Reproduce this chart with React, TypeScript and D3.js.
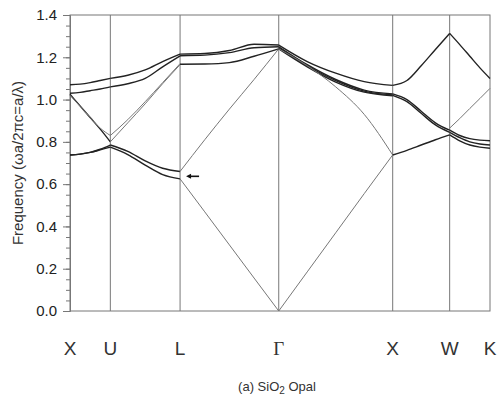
import React, { useEffect, useRef } from "react";
import * as d3 from "d3";

// high symmetry points along the k path (units of 2pi/a)
const kLabels = ["X", "U", "L", "Γ", "X", "W", "K"];
const kPos = [0, 0.354, 0.966, 1.832, 2.832, 3.332, 3.686];
const yTicks = [0, 0.2, 0.4, 0.6, 0.8, 1.0, 1.2, 1.4];
// sample fractions inside every segment
const samples = [0, 0.25, 0.5, 0.75, 1];

// frequencies (wa/2pic) of each band at the samples of a segment
const bandsXU = [
  [1.07, 1.073, 1.08, 1.09, 1.1],
  [1.03, 1.034, 1.042, 1.05, 1.06],
  [1.025, 0.97, 0.915, 0.86, 0.8],
  [1.02, 0.968, 0.915, 0.865, 0.83],
  [0.738, 0.742, 0.75, 0.765, 0.785],
  [0.738, 0.742, 0.75, 0.762, 0.775],
];
const bandsUL = [
  [1.1, 1.115, 1.14, 1.18, 1.215],
  [1.06, 1.075, 1.1, 1.155, 1.207],
  [0.8, 0.89, 0.98, 1.075, 1.165],
  [0.83, 0.905, 0.99, 1.08, 1.17],
  [0.785, 0.755, 0.71, 0.675, 0.66],
  [0.775, 0.74, 0.69, 0.645, 0.625],
];
const bandsLG = [
  [1.215, 1.218, 1.232, 1.262, 1.258],
  [1.207, 1.21, 1.222, 1.245, 1.25],
  [1.167, 1.168, 1.175, 1.205, 1.24],
  [0.66, 0.81, 0.955, 1.095, 1.24],
  [0.625, 0.469, 0.3125, 0.156, 0],
];
const bandsGX = [
  [1.258, 1.18, 1.125, 1.085, 1.067],
  [1.25, 1.165, 1.095, 1.045, 1.027],
  [1.245, 1.16, 1.09, 1.04, 1.022],
  [1.24, 1.155, 1.083, 1.035, 1.018],
  [1.24, 1.16, 1.06, 0.93, 0.738],
  [0, 0.185, 0.37, 0.555, 0.738],
];
const bandsXW = [
  [1.067, 1.09, 1.16, 1.237, 1.313],
  [1.027, 1.0, 0.945, 0.89, 0.855],
  [1.02, 0.99, 0.935, 0.88, 0.845],
  [0.738, 0.76, 0.785, 0.81, 0.833],
];
const bandsWK = [
  [1.313, 1.26, 1.205, 1.15, 1.1],
  [0.865, 0.91, 0.958, 1.005, 1.053],
  [0.855, 0.83, 0.815, 0.808, 0.805],
  [0.845, 0.82, 0.8, 0.79, 0.785],
  [0.833, 0.805, 0.785, 0.775, 0.77],
];
const segments = [bandsXU, bandsUL, bandsLG, bandsGX, bandsXW, bandsWK];
// which bands are drawn as thin grey lines, per segment
const lightBands = [[3], [2, 3], [3, 4], [4, 5], [], [1]];

const W = 498;
const H = 397;
const margin = { left: 70, right: 8, top: 15, bottom: 86 };

const App = () => {
  const ref = useRef<SVGSVGElement>(null);

  useEffect(() => {
    document.body.style.margin = "0";
    const svg = d3.select(ref.current);
    svg.selectAll("*").remove();

    const x = d3
      .scaleLinear()
      .domain([0, kPos[kPos.length - 1]])
      .range([margin.left, W - margin.right]);
    const y = d3
      .scaleLinear()
      .domain([0, 1.4])
      .range([H - margin.bottom, margin.top]);

    const font = "'Liberation Sans', Arial, sans-serif";

    // frame
    svg
      .append("rect")
      .attr("x", x(0))
      .attr("y", y(1.4))
      .attr("width", x(kPos[6]) - x(0))
      .attr("height", y(0) - y(1.4))
      .attr("fill", "none")
      .attr("stroke", "#777")
      .attr("stroke-width", 1);

    // vertical symmetry lines
    svg
      .selectAll("line.sym")
      .data(kPos.slice(1, 6))
      .enter()
      .append("line")
      .attr("x1", (d) => x(d))
      .attr("x2", (d) => x(d))
      .attr("y1", y(0))
      .attr("y2", y(1.4))
      .attr("stroke", "#777")
      .attr("stroke-width", 1);

    // left axis, minor then major ticks
    const ax = svg.append("g").attr("transform", `translate(${x(0)},0)`);
    ax.call(
      d3
        .axisLeft(y)
        .tickValues(d3.range(0, 1.401, 0.05))
        .tickSize(4)
        .tickFormat(() => "")
    );
    ax.call((g) => g.select(".domain").remove());
    ax.selectAll("line").attr("stroke", "#777");
    const ax2 = svg.append("g").attr("transform", `translate(${x(0)},0)`);
    ax2.call(
      d3
        .axisLeft(y)
        .tickValues(yTicks)
        .tickSize(7)
        .tickPadding(6)
        .tickFormat(d3.format(".1f"))
    );
    ax2.select(".domain").attr("stroke", "#777");
    ax2.selectAll("line").attr("stroke", "#777");
    ax2
      .selectAll("text")
      .attr("font-family", font)
      .attr("font-size", 15)
      .attr("fill", "#222");

    // bands
    const line = d3
      .line<[number, number]>()
      .x((d) => x(d[0]))
      .y((d) => y(d[1]))
      .curve(d3.curveMonotoneX);

    segments.forEach((bands, si) => {
      const k0 = kPos[si];
      const k1 = kPos[si + 1];
      bands.forEach((vals, bi) => {
        const pts: [number, number][] = vals.map((v, i) => [
          k0 + (k1 - k0) * samples[i],
          v,
        ]);
        const light = lightBands[si].includes(bi);
        svg
          .append("path")
          .attr("d", line(pts))
          .attr("fill", "none")
          .attr("stroke", light ? "#777" : "#222")
          .attr("stroke-width", light ? 1 : 1.4);
      });
    });

    // arrow at L
    const ay = y(0.637);
    const ax0 = x(kPos[2]) + 6;
    svg
      .append("line")
      .attr("x1", ax0 + 3)
      .attr("x2", ax0 + 13)
      .attr("y1", ay)
      .attr("y2", ay)
      .attr("stroke", "#111")
      .attr("stroke-width", 1.6);
    svg
      .append("path")
      .attr("d", `M${ax0},${ay}L${ax0 + 5},${ay - 2.5}L${ax0 + 5},${ay + 2.5}Z`)
      .attr("fill", "#111");

    // k labels
    svg
      .selectAll("text.k")
      .data(kLabels)
      .enter()
      .append("text")
      .attr("x", (_, i) => x(kPos[i]))
      .attr("y", 355)
      .attr("text-anchor", "middle")
      .attr("font-family", (d) => (d === "Γ" ? "'Liberation Serif', serif" : font))
      .attr("font-size", 19)
      .attr("fill", "#333")
      .text((d) => d);

    // y title
    svg
      .append("text")
      .attr("transform", `translate(23,${(y(0) + y(1.4)) / 2}) rotate(-90)`)
      .attr("text-anchor", "middle")
      .attr("font-family", font)
      .attr("font-size", 15)
      .attr("fill", "#333")
      .text("Frequency (ωa/2πc=a/λ)");

    // caption
    const cap = svg
      .append("text")
      .attr("x", 277)
      .attr("y", 391)
      .attr("text-anchor", "middle")
      .attr("font-family", font)
      .attr("font-size", 13)
      .attr("fill", "#333");
    cap.append("tspan").text("(a) SiO");
    cap.append("tspan").attr("font-size", 10).attr("dy", 3).text("2");
    cap.append("tspan").attr("dy", -3).text(" Opal");
  }, []);

  return (
    <div>
      <svg ref={ref} width={W} height={H} style={{ display: "block" }}></svg>
    </div>
  );
};

export default App;
